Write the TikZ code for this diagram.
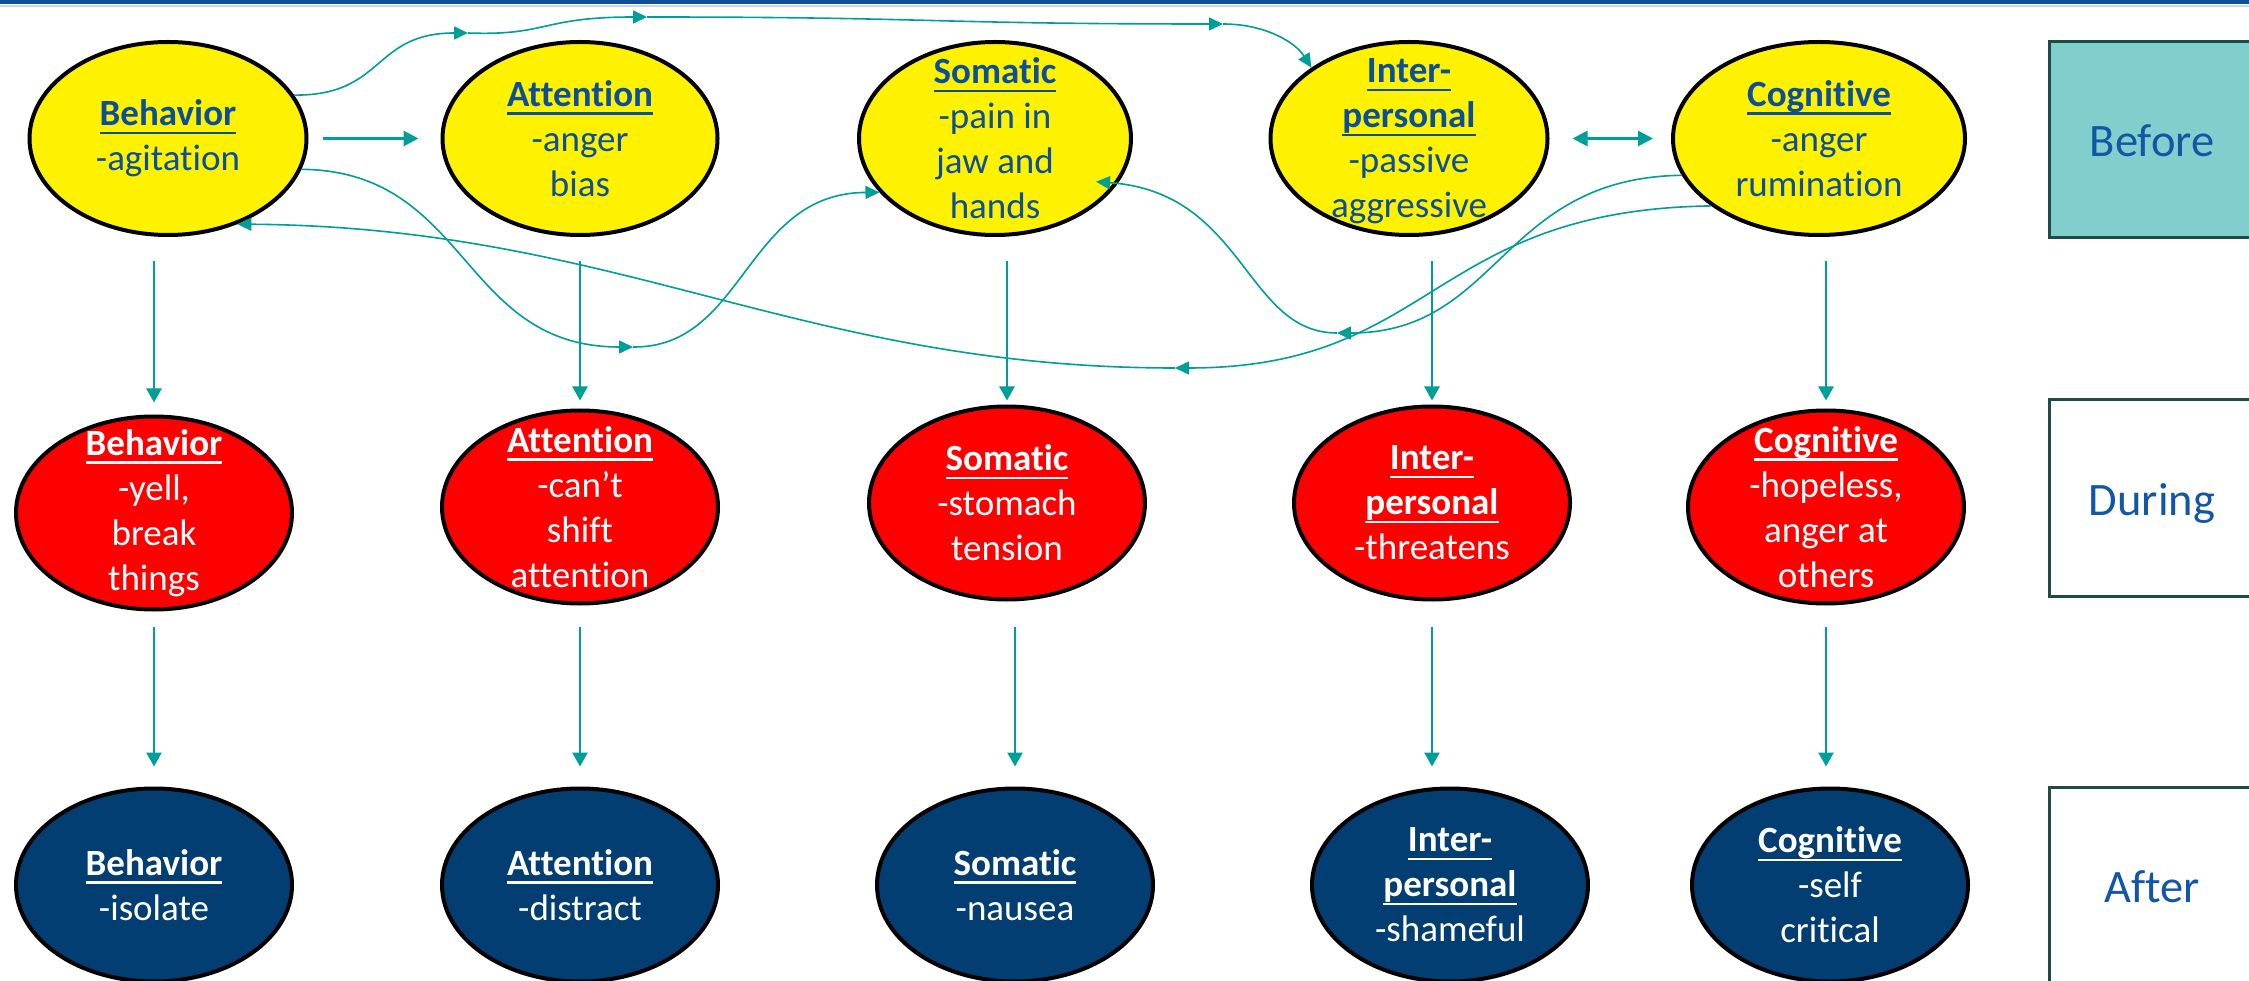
\documentclass[tikz,border=0pt]{standalone}
\usepackage{fontspec}
\setmainfont{Carlito}[Ligatures=CommonOff]
\usetikzlibrary{arrows.meta,shapes.geometric,calc}

\definecolor{txtblue}{HTML}{0B4E9C}
\definecolor{linkteal}{HTML}{009E99}
\definecolor{navyfill}{HTML}{033E73}
\definecolor{boxline}{HTML}{1E4B49}
\definecolor{boxfill}{HTML}{80CFCC}
\definecolor{labelblue}{HTML}{1257A5}
\definecolor{topbar}{HTML}{0C4F96}
\definecolor{barline}{HTML}{C9D6E4}

% bold heading word with a rule set at a fixed depth under the baseline
\newcommand{\hd}[1]{{\bfseries\setbox0=\hbox{#1}\rlap{\rule[-8.6pt]{\wd0}{2.6pt}}\box0}}

\tikzset{
  oval/.style={ellipse, draw=black, line width=4pt, inner sep=0pt,
    minimum width=276pt, minimum height=193pt},
  yel/.style={oval, fill=yellow},
  redov/.style={oval, fill=red},
  navy/.style={oval, fill=navyfill},
  lbl/.style={align=center, inner sep=0pt, font=\fontsize{37}{45}\selectfont},
  ylbl/.style={lbl, text=txtblue},
  wlbl/.style={lbl, text=white},
  link/.style={draw=linkteal, line width=1.6pt, -{Triangle[length=14pt,width=13pt]}},
  boldlink/.style={draw=linkteal, line width=2.8pt, -{Triangle[length=15pt,width=15pt]}},
  dn/.style={draw=linkteal, line width=2.6pt, -{Triangle[length=14pt,width=15pt]}},
  stage/.style={draw=boxline, line width=3pt, minimum width=206pt, minimum height=196pt,
    inner sep=0pt, text=labelblue, text height=34pt, text depth=0pt,
    font=\fontsize{46.5}{56}\selectfont}
}

\begin{document}
\begin{tikzpicture}[x=1pt, y=-1pt]
\useasboundingbox (0,0) rectangle (2249,981);
\clip (0,0) rectangle (2249,981);
\fill[white] (0,0) rectangle (2249,981);

% header rule
\fill[topbar] (0,0) rectangle (2249,4.5);
\draw[barline, line width=1.5pt] (0,5.8) -- (2249,5.8);

% before row
\node[yel, minimum width=277pt] (yB) at (168,138.5) {};
\node[yel, minimum width=275pt] (yA) at (580,138.5) {};
\node[yel, minimum width=272pt] (yS) at (995,138.5) {};
\node[yel, minimum width=277pt] (yI) at (1409,138.5) {};
\node[yel, minimum width=292pt] (yC) at (1819,138.5) {};

% during row
\node[redov] (rB) at (154,513) {};
\node[redov] (rA) at (580,507) {};
\node[redov] (rS) at (1007,503) {};
\node[redov] (rI) at (1432,503) {};
\node[redov] (rC) at (1826,507) {};

% after row
\node[navy] (bB) at (154,885) {};
\node[navy] (bA) at (580,885) {};
\node[navy] (bS) at (1015,885) {};
\node[navy] (bI) at (1450,885) {};
\node[navy] (bC) at (1830,885) {};

% labels
\node[ylbl] (yBt) at (yB) {\hd{Behavior}\\-agitation};
\node[ylbl] (yAt) at (yA) {\hd{Attention}\\-anger\\bias};
\node[ylbl] (ySt) at (yS) {\hd{Somatic}\\-pain in\\jaw and\\hands};
\node[ylbl] (yIt) at ([yshift=-3pt]yI.center) {\hd{Inter-}\\\hd{personal}\\-passive\\aggressive};
\node[ylbl] (yCt) at (yC) {\hd{Cognitive}\\-anger\\rumination};

\node[wlbl] (rBt) at (rB) {\hd{Behavior}\\-yell,\\break\\things};
\node[wlbl] (rAt) at (rA) {\hd{Attention}\\-can’t\\shift\\attention};
\node[wlbl] (rSt) at (rS) {\hd{Somatic}\\-stomach\\tension};
\node[wlbl] (rIt) at (rI) {\hd{Inter-}\\\hd{personal}\\-threatens};
\node[wlbl] (rCt) at (rC) {\hd{Cognitive}\\-hopeless,\\anger at\\others};

\node[wlbl] (bBt) at (bB) {\hd{Behavior}\\-isolate};
\node[wlbl] (bAt) at (bA) {\hd{Attention}\\-distract};
\node[wlbl] (bSt) at (bS) {\hd{Somatic}\\-nausea};
\node[wlbl] (bIt) at (bI) {\hd{Inter-}\\\hd{personal}\\-shameful};
\node[wlbl] (bCt) at (bC) {\hd{Cognitive}\\-self\\critical};

% stage boxes
\node[stage, fill=boxfill] (before) at (2152,139.5) {Before};
\node[stage, fill=white] (during) at (2152,498) {During};
\node[stage, fill=white] (after) at (2152,885.5) {After};

% downward links
\draw[dn, shorten <=24pt, shorten >=12pt] (yB.south -| rB.north) -- (rB.north);
\draw[dn, shorten <=24pt, shorten >=8pt] (yA.south -| rA.north) -- (rA.north);
\draw[dn, shorten <=24pt, shorten >=4pt] (yS.south -| rS.north) -- (rS.north);
\draw[dn, shorten <=24pt, shorten >=4pt] (yI.south -| rI.north) -- (rI.north);
\draw[dn, shorten <=24pt, shorten >=8pt] (yC.south -| rC.north) -- (rC.north);

\draw[dn, shorten <=15pt, shorten >=20pt] (rB.south) -- (bB.north -| rB.south);
\draw[dn, shorten <=21pt, shorten >=20pt] (rA.south) -- (bA.north -| rA.south);
\draw[dn, shorten <=25pt, shorten >=20pt] (rS.south -| bS.north) -- (bS.north);
\draw[dn, shorten <=25pt, shorten >=20pt] (rI.south) -- (bI.north -| rI.south);
\draw[dn, shorten <=21pt, shorten >=20pt] (rC.south) -- (bC.north -| rC.south);

% links within the before row
\draw[boldlink, shorten <=14pt, shorten >=22pt] (yB.east) -- (yA.west);
\draw[boldlink, {Triangle[length=15pt,width=15pt]}-{Triangle[length=15pt,width=15pt]},
  shorten <=23pt, shorten >=18pt] (yI.east) -- (yC.west);

\coordinate (p1) at (468,33);
\coordinate (p2) at (647,17);
\coordinate (p3) at (1223,24);
\coordinate (q1) at (633,347);
\coordinate (r1) at (1337,333);
\coordinate (s1) at (1175,368);

% path over the top: Behavior to Interpersonal
\draw[link] (yB.19) .. controls (385,96) and (372,33) .. (p1);
\draw[link] (p1) .. controls (548,36) and (540,17) .. (p2);
\draw[link] (p2) .. controls (935,17) and (930,24) .. (p3);
\draw[link] (p3) .. controls (1265,24) and (1295,42) .. (yI.144);

% Behavior to Somatic
\draw[link] (yB.-13) .. controls (470,171) and (460,347) .. (q1);
\draw[link] (q1) .. controls (745,348) and (745,193) .. (yS.205);

% Cognitive to Somatic
\draw[link] (yC.195) .. controls (1500,178) and (1500,333) .. (r1);
\draw[link, shorten >=-22pt] (r1) .. controls (1245,333) and (1245,192) .. (yS.-20);

% Cognitive to Behavior
\draw[link] (yC.212) .. controls (1430,210) and (1435,368) .. (s1);
\draw[link] (s1) .. controls (800,368) and (620,227) .. (yB.-51);
\end{tikzpicture}
\end{document}
